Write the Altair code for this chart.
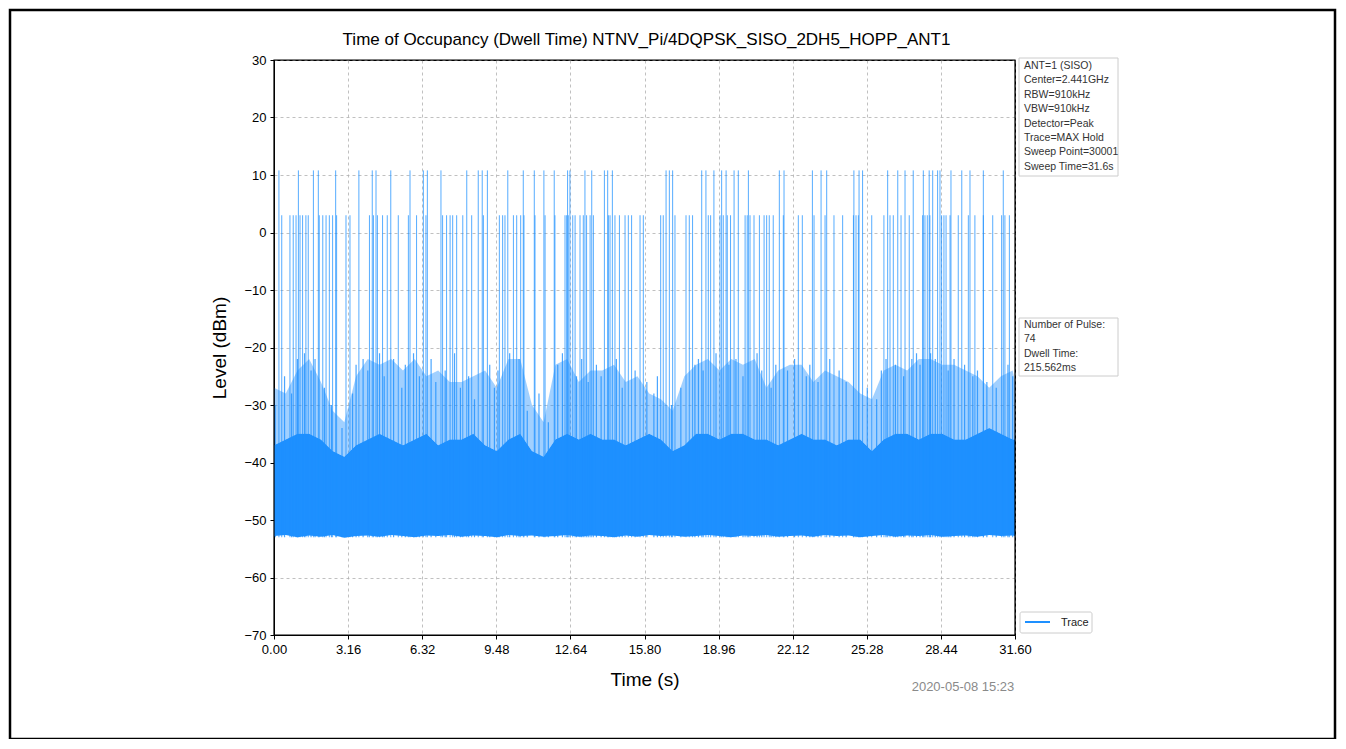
import altair as alt
import pandas as pd

# ---------------- data ----------------
TITLE = "Time of Occupancy (Dwell Time) NTNV_Pi/4DQPSK_SISO_2DH5_HOPP_ANT1"
X_TICKS = [0.0, 3.16, 6.32, 9.48, 12.64, 15.80, 18.96, 22.12, 25.28, 28.44, 31.60]
Y_TICKS = [-70, -60, -50, -40, -30, -20, -10, 0, 10, 20, 30]

# noise envelope sampled every 0.5 s (dBm)
env_t = [0.0, 0.5, 1.0, 1.5, 2.0, 2.5, 3.0, 3.5, 4.0, 4.5, 5.0, 5.5, 6.0, 6.5, 7.0, 7.5,
         8.0, 8.5, 9.0, 9.5, 10.0, 10.5, 11.0, 11.5, 12.0, 12.5, 13.0, 13.5, 14.0, 14.5,
         15.0, 15.5, 16.0, 16.5, 17.0, 17.5, 18.0, 18.5, 19.0, 19.5, 20.0, 20.5, 21.0,
         21.5, 22.0, 22.5, 23.0, 23.5, 24.0, 24.5, 25.0, 25.5, 26.0, 26.5, 27.0, 27.5,
         28.0, 28.5, 29.0, 29.5, 30.0, 30.5, 31.0, 31.5, 31.6]
noise_floor = [-52.8, -52.6, -53.0, -52.7, -52.9, -52.6, -53.1, -52.8, -52.7, -52.9,
               -52.6, -52.8, -53.0, -52.7, -52.8, -52.6, -52.9, -52.7, -52.8, -53.0,
               -52.6, -52.8, -52.7, -52.9, -52.8, -52.6, -52.9, -52.7, -52.8, -53.0,
               -52.7, -52.9, -52.6, -52.8, -52.7, -52.9, -52.8, -52.6, -52.8, -53.0,
               -52.7, -52.8, -52.6, -52.9, -52.8, -52.7, -52.9, -52.6, -52.8, -52.7,
               -53.0, -52.8, -52.6, -52.9, -52.7, -52.8, -52.6, -52.9, -52.8, -52.7,
               -52.9, -52.6, -52.8, -52.7, -52.8]
solid_top = [-37, -36, -35, -35, -36, -38, -39, -37, -36, -35, -36, -37, -36, -35, -37, -36,
             -36, -35, -37, -38, -36, -35, -38, -39, -36, -35, -36, -35, -36, -36,
             -37, -36, -35, -36, -38, -37, -35, -35, -36, -35, -35, -36, -36,
             -37, -36, -35, -36, -36, -37, -36, -36, -38, -36, -35, -35, -36,
             -35, -35, -36, -36, -35, -34, -35, -36, -36]
haze_top = [-27, -28, -24, -22, -26, -31, -33, -25, -22, -23, -22, -24, -22, -25, -24, -26,
            -26, -25, -24, -27, -22, -22, -30, -33, -23, -22, -26, -24, -24, -23,
            -26, -25, -28, -29, -31, -25, -23, -22, -24, -22, -23, -22, -27,
            -24, -23, -23, -26, -24, -25, -26, -28, -29, -24, -23, -24, -22,
            -22, -23, -23, -24, -25, -27, -25, -24, -26]

# individual noise peaks standing out of the noise body (s, dBm)
mid_t = [0.05, 0.45, 0.75, 1.00, 1.30, 1.58, 1.75, 2.15, 2.45, 2.90, 3.35, 3.50, 3.80, 4.00,
         4.50, 4.70, 5.10, 5.45, 5.60, 5.95, 6.20, 6.70, 6.90, 7.30, 7.70, 7.95, 8.30, 8.55,
         9.20, 9.40, 9.55, 10.05, 10.45, 10.80, 11.30, 11.70, 12.10, 12.30, 12.90, 13.12,
         13.40, 13.75, 13.95, 14.60, 14.85, 15.40, 15.90, 16.20, 16.35, 16.95, 17.35, 17.95,
         18.10, 18.30, 18.85, 19.40, 19.70, 20.00, 20.60, 20.80, 21.20, 21.40, 21.90, 22.20,
         22.70, 22.85, 23.20, 23.70, 24.10, 24.40, 25.30, 25.70, 25.90, 26.10, 26.50, 26.85,
         27.20, 27.40, 27.55, 28.00, 28.20, 28.75, 29.00, 29.45, 29.80, 30.00, 30.40, 30.80,
         31.30, 31.50]
mid_level = [-30, -25, -28, -22, -21, -24, -22, -27, -30, -34, -28, -23, -22, -24,
             -21, -25, -22, -27, -23, -21, -25, -22, -26, -24, -21, -27, -25, -29,
             -23, -27, -24, -21, -22, -31, -28, -33, -23, -21, -25, -22,
             -26, -23, -25, -22, -27, -24, -26, -28, -25, -30, -27, -23,
             -22, -24, -21, -23, -22, -25, -21, -24, -27, -23, -24, -22,
             -25, -23, -26, -22, -24, -26, -27, -29, -24, -22, -23, -25,
             -22, -21, -23, -21, -22, -24, -22, -23, -25, -24, -26, -27,
             -23, -25]

# hopping pulses (s) reaching ~10.8 dBm
tall_t = [0.21, 1.04, 1.68, 1.89, 2.63, 3.62, 4.19, 4.35, 4.98, 5.80, 6.37, 6.54, 7.12,
          8.22, 8.71, 8.88, 9.10, 9.97, 10.63, 11.10, 11.51, 11.95, 12.52, 12.62, 13.26,
          13.55, 14.09, 14.23, 14.43, 16.72, 16.86, 17.00, 18.24, 18.42, 18.76, 19.09,
          19.28, 19.62, 19.80, 20.23, 21.55, 21.75, 22.96, 23.33, 23.57, 24.73, 24.95,
          25.10, 26.17, 26.60, 26.91, 27.26, 27.69, 27.94, 28.09, 28.30, 28.40, 28.87,
          29.33, 29.68, 30.25, 31.10]
tall_level = 10.8

# pulses (s) reaching ~3 dBm
short_t = [0.33, 0.68, 0.82, 0.94, 1.11, 1.22, 1.36, 1.46, 1.93, 2.08, 2.22, 2.36, 2.50,
           2.67, 3.07, 3.24, 4.07, 4.24, 4.41, 4.63, 4.83, 5.30, 5.73, 6.08, 6.48, 7.19,
           7.36, 7.51, 7.62, 7.79, 8.05, 8.43, 8.93, 9.61, 9.75, 9.85, 10.21, 10.35, 10.52,
           10.66, 11.13, 11.56, 11.98, 12.41, 12.48, 12.55, 12.74, 12.84, 13.05, 13.19,
           13.33, 13.48, 13.62, 14.26, 14.33, 14.54, 14.73, 14.97, 15.11, 15.25, 15.61,
           15.75, 16.49, 16.60, 17.10, 17.57, 17.71, 17.85, 18.52, 18.62, 19.02, 19.16,
           19.33, 19.47, 20.09, 20.18, 20.30, 20.47, 20.70, 20.90, 21.01, 21.12, 21.29,
           21.72, 22.36, 22.53, 23.03, 23.50, 23.88, 24.25, 24.71, 24.82, 24.92, 25.49,
           26.01, 26.27, 26.41, 26.74, 27.09, 27.66, 27.76, 27.86, 27.97, 28.47, 28.57,
           28.66, 28.83, 29.18, 29.61, 29.89, 30.25, 30.65, 31.03, 31.17, 31.36]
short_level = 3.0
pulse_base = -53.0

info_lines = ["ANT=1 (SISO)", "Center=2.441GHz", "RBW=910kHz", "VBW=910kHz",
              "Detector=Peak", "Trace=MAX Hold", "Sweep Point=30001", "Sweep Time=31.6s"]
pulse_lines = ["Number of Pulse:", "74", "Dwell Time:", "215.562ms"]
legend_label = "Trace"
timestamp = "2020-05-08 15:23"

# ---------------- chart ----------------
BLUE = "#1E90FF"
FONT = "Liberation Sans"
W, H = 741, 575

env = pd.DataFrame({"t": env_t, "floor": noise_floor, "solid": solid_top, "haze": haze_top})
pulses = pd.DataFrame({
    "t": tall_t + short_t,
    "level": [tall_level] * len(tall_t) + [short_level] * len(short_t),
    "base": [pulse_base] * (len(tall_t) + len(short_t)),
})
mids = pd.DataFrame({"t": mid_t, "level": mid_level, "base": [pulse_base] * len(mid_t)})
one = pd.DataFrame({"k": [0]})

xscale = alt.Scale(domain=[0, 31.6], nice=False, zero=False)
yscale = alt.Scale(domain=[-70, 30], nice=False, zero=False)

xaxis = alt.Axis(values=X_TICKS, format=".2f", title="Time (s)", grid=True, labelFlush=False)
yaxis = alt.Axis(values=Y_TICKS, format="d", title="Level (dBm)", grid=True, labelFlush=False)

haze = alt.Chart(env).mark_area(color=BLUE, opacity=0.42, interpolate="linear").encode(
    x=alt.X("t:Q", scale=xscale, axis=xaxis),
    y=alt.Y("haze:Q", scale=yscale, axis=yaxis),
    y2="solid:Q",
)
solid = alt.Chart(env).mark_area(color=BLUE, opacity=1, interpolate="linear").encode(
    x=alt.X("t:Q", scale=xscale),
    y=alt.Y("solid:Q", scale=yscale),
    y2="floor:Q",
)
midspikes = alt.Chart(mids).mark_rule(color=BLUE, strokeWidth=1.2, opacity=0.8).encode(
    x=alt.X("t:Q", scale=xscale),
    y=alt.Y("level:Q", scale=yscale),
    y2="base:Q",
)
spikes = alt.Chart(pulses).mark_rule(color=BLUE, strokeWidth=1, opacity=0.75).encode(
    x=alt.X("t:Q", scale=xscale),
    y=alt.Y("level:Q", scale=yscale),
    y2="base:Q",
)

title = alt.Chart(one).mark_text(align="center", baseline="middle", font=FONT,
                                 fontSize=17, color="black").encode(
    x=alt.value(W / 2 + 2), y=alt.value(-20), text=alt.value(TITLE)
)
frame = alt.Chart(one).mark_rect(fillOpacity=0, stroke="black", strokeWidth=2.5).encode(
    x=alt.value(-264), x2=alt.value(1061), y=alt.value(-50), y2=alt.value(679)
)
spines = alt.Chart(one).mark_rect(fillOpacity=0, stroke="black", strokeWidth=1.2).encode(
    x=alt.value(0), x2=alt.value(W), y=alt.value(0), y2=alt.value(H)
)

box1 = alt.Chart(one).mark_rect(fill="white", stroke="#cccccc", strokeWidth=1).encode(
    x=alt.value(745), x2=alt.value(844), y=alt.value(-2), y2=alt.value(116)
)
txt1 = alt.Chart(one).mark_text(align="left", baseline="top", font=FONT, fontSize=10.5,
                                 color="#333333", lineHeight=14.4).encode(
    x=alt.value(750), y=alt.value(1), text=alt.value(info_lines)
)
box2 = alt.Chart(one).mark_rect(fill="white", stroke="#cccccc", strokeWidth=1).encode(
    x=alt.value(745), x2=alt.value(844), y=alt.value(258), y2=alt.value(316)
)
txt2 = alt.Chart(one).mark_text(align="left", baseline="top", font=FONT, fontSize=10.5,
                                 color="#333333", lineHeight=14.4).encode(
    x=alt.value(750), y=alt.value(260), text=alt.value(pulse_lines)
)
legbox = alt.Chart(one).mark_rect(fill="white", stroke="#cccccc", strokeWidth=1,
                                  cornerRadius=2).encode(
    x=alt.value(746), x2=alt.value(818), y=alt.value(552), y2=alt.value(573)
)
legline = alt.Chart(one).mark_rule(color=BLUE, strokeWidth=2).encode(
    x=alt.value(751), x2=alt.value(776), y=alt.value(562)
)
legtext = alt.Chart(one).mark_text(align="left", baseline="middle", font=FONT,
                                   fontSize=11, color="#222222").encode(
    x=alt.value(787), y=alt.value(563), text=alt.value(legend_label)
)
stamp = alt.Chart(one).mark_text(align="center", baseline="middle", font=FONT,
                                 fontSize=13, color="#8a8a8a").encode(
    x=alt.value(689), y=alt.value(627), text=alt.value(timestamp)
)

chart = alt.layer(
    haze, solid, midspikes, spikes, spines, title, frame, box1, txt1, box2, txt2,
    legbox, legline, legtext, stamp
).properties(
    width=W, height=H,
    autosize=alt.AutoSizeParams(type="none"),
    padding={"left": 266, "top": 52, "right": 322, "bottom": 104},
).configure_view(
    stroke="black", strokeWidth=1
).configure_axis(
    labelFont=FONT, titleFont=FONT, labelFontSize=13, titleFontSize=19,
    titleFontWeight="normal", labelColor="black", titleColor="black",
    domainColor="black", tickColor="black", tickSize=4, labelPadding=4,
    gridColor="#b0b0b0", gridDash=[3, 3], gridWidth=0.8,
).configure_axisX(
    titlePadding=14
).configure_axisY(
    titlePadding=14
)

chart.save("out.html", embed_options={"renderer": "svg", "actions": False})
